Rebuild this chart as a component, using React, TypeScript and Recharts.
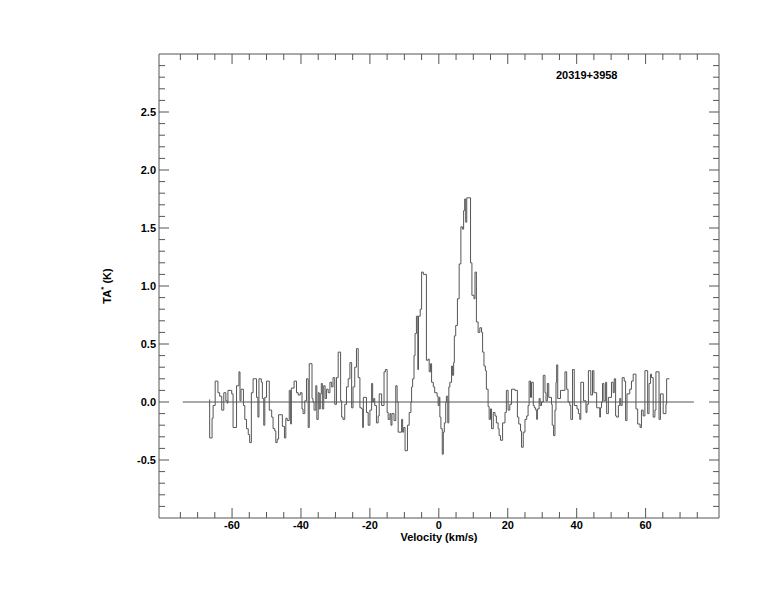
import { LineChart, Line, XAxis, YAxis } from "recharts";

// spectrum breakpoints (velocity km/s, TA* K), drawn as steps
const VEL = [
  -66.6, -66.5, -65.8, -65.5, -64.9, -64.1, -63.6, -63.0, -62.4, -61.8, -61.4, -61.2, -60.1, -59.7, -58.7, -58.0,
  -57.7, -57.4, -56.7, -56.3, -55.8, -55.3, -54.9, -54.4, -53.9, -52.9, -52.5, -52.2, -51.5, -51.2, -50.8, -50.5,
  -50.0, -49.2, -48.5, -48.1, -47.6, -47.3, -46.9, -46.5, -45.4, -44.8, -44.4, -44.0, -43.4, -43.0, -42.8, -42.0,
  -41.3, -40.8, -40.2, -39.7, -39.4, -38.9, -38.4, -37.9, -37.6, -36.8, -36.5, -36.2, -35.7, -35.4, -35.0, -34.7,
  -34.4, -34.1, -33.8, -33.4, -33.0, -32.6, -32.1, -31.6, -31.1, -30.7, -30.2, -29.7, -29.2, -28.5, -28.2, -27.8,
  -27.3, -26.8, -26.3, -25.8, -25.3, -24.9, -24.4, -23.9, -23.4, -22.9, -22.4, -22.1, -21.9, -21.0, -20.5, -20.0,
  -19.5, -19.2, -18.9, -18.6, -18.1, -17.6, -17.3, -16.6, -15.9, -15.5, -15.0, -14.7, -14.2, -13.9, -13.6, -13.0,
  -12.5, -12.1, -11.8, -10.8, -10.5, -10.2, -9.8, -9.1, -8.6, -8.1, -7.9, -7.6, -7.2, -6.9, -6.5, -6.1,
  -5.9, -5.4, -5.0, -4.5, -3.6, -3.1, -2.8, -2.4, -2.1, -1.6, -1.2, -0.5, -0.2, 0.1, 0.3, 0.6,
  1.0, 1.3, 1.6, 2.0, 2.2, 2.6, 2.9, 3.2, 3.7, 4.0, 4.3, 4.5, 4.9, 5.4, 5.9, 6.4,
  6.9, 7.2, 7.5, 7.8, 8.1, 9.2, 9.6, 10.2, 10.5, 10.9, 11.4, 11.9, 12.4, 12.7, 13.1, 13.5,
  13.8, 14.3, 14.6, 15.0, 15.3, 15.8, 16.3, 16.7, 17.2, 17.5, 17.9, 18.5, 19.2, 19.6, 20.1, 20.6,
  21.1, 22.1, 22.8, 23.2, 23.7, 24.0, 24.5, 25.0, 25.5, 25.9, 26.2, 26.6, 26.9, 27.4, 27.7, 28.1,
  28.4, 28.6, 29.1, 29.4, 29.8, 30.3, 30.8, 31.1, 31.5, 31.9, 32.7, 32.9, 33.3, 33.7, 34.0, 34.2,
  34.5, 35.3, 36.6, 37.1, 37.5, 38.0, 38.3, 38.8, 39.3, 40.1, 40.5, 40.9, 41.2, 42.0, 42.7, 43.0,
  43.4, 44.1, 44.6, 45.0, 45.8, 46.7, 46.9, 47.2, 47.5, 47.9, 48.4, 48.7, 49.2, 50.1, 50.6, 50.9,
  51.3, 51.6, 52.1, 52.5, 52.8, 53.2, 53.8, 54.2, 54.6, 55.4, 55.9, 56.4, 57.2, 57.7, 58.4, 58.8,
  59.3, 59.8, 60.6, 61.0, 61.4, 61.7, 62.2, 62.7, 63.0, 63.9, 64.3, 65.1, 65.9, 66.1, 66.9,
];

const TA = [
  0.02, -0.31, -0.14, -0.03, 0.18, 0.08, 0.05, -0.07, 0.08, 0.01, -0.01, 0.1, 0.07, -0.22, 0.14, 0.26,
  0.01, 0.11, -0.03, -0.15, -0.23, -0.28, -0.35, 0.08, 0.2, 0.04, -0.13, 0.2, 0.17, 0.03, -0.2, 0.04,
  0.18, -0.07, -0.13, -0.23, -0.25, -0.35, -0.32, -0.11, -0.21, -0.31, -0.14, -0.16, 0.1, -0.19, 0.12, 0.18,
  0.08, 0.06, 0.08, -0.06, -0.1, 0.01, 0.2, -0.22, 0.33, 0.03, 0.0, -0.07, 0.14, -0.15, 0.08, -0.06,
  0.07, 0.16, -0.06, 0.14, 0.03, 0.11, 0.08, 0.17, 0.13, 0.21, -0.02, 0.21, 0.43, 0.01, -0.13, -0.15,
  -0.02, 0.13, 0.2, 0.34, -0.05, 0.13, 0.3, 0.46, 0.21, -0.05, -0.06, -0.22, 0.04, -0.09, -0.2, -0.07,
  0.16, 0.0, 0.03, -0.03, -0.18, -0.12, 0.07, -0.03, 0.26, 0.28, -0.09, -0.15, -0.1, -0.2, -0.1, -0.16,
  0.14, 0.0, -0.26, -0.15, -0.26, -0.22, -0.42, -0.2, -0.09, 0.0, 0.13, 0.2, 0.4, 0.59, 0.74, 0.28,
  0.74, 0.8, 1.12, 1.1, 0.36, 0.37, 0.26, 0.33, 0.17, 0.13, 0.08, 0.05, -0.03, 0.04, -0.13, -0.23,
  -0.45, -0.26, -0.18, 0.0, 0.05, -0.18, 0.13, 0.17, 0.31, 0.23, 0.34, 0.57, 0.66, 0.89, 1.19, 1.51,
  1.49, 1.65, 1.75, 1.55, 1.76, 1.2, 0.92, 0.89, 1.12, 0.69, 0.6, 0.64, 0.6, 0.43, 0.31, 0.27,
  0.11, -0.04, -0.15, -0.06, -0.23, -0.09, -0.12, -0.18, -0.23, -0.29, -0.33, -0.18, -0.09, 0.1, -0.07, -0.02,
  0.11, 0.1, -0.13, -0.19, -0.25, -0.39, -0.26, -0.15, -0.12, -0.03, 0.18, 0.04, 0.17, -0.03, -0.05, -0.07,
  -0.15, -0.06, 0.03, -0.03, 0.0, 0.23, 0.08, 0.01, 0.16, 0.04, -0.02, -0.2, -0.29, -0.07, 0.17, 0.32,
  0.03, 0.1, 0.26, 0.11, 0.0, -0.03, -0.15, 0.28, -0.03, -0.06, -0.1, -0.15, 0.17, 0.01, -0.09, -0.02,
  0.27, 0.06, 0.27, 0.08, -0.05, -0.13, -0.05, 0.0, 0.16, 0.01, 0.17, -0.1, 0.04, 0.17, 0.08, 0.2,
  -0.12, -0.13, -0.03, 0.03, -0.03, 0.21, 0.18, -0.16, 0.07, 0.11, 0.18, 0.24, -0.06, -0.19, -0.22, -0.07,
  -0.12, 0.27, -0.1, 0.16, 0.24, 0.21, -0.13, -0.07, 0.26, -0.15, 0.07, -0.1, -0.02, 0.2, 0.2,
];

// horizontal zero baseline extent (km/s)
const BASE_VEL = [-74.3, 74.0];
const BASE_TA = [0, 0];

const X_TICKS = [
  -75, -70, -65, -60, -55, -50, -45, -40, -35, -30, -25, -20, -15, -10, -5, 0,
  5, 10, 15, 20, 25, 30, 35, 40, 45, 50, 55, 60, 65, 70, 75,
];
const Y_TICKS = [
  -0.9, -0.8, -0.7, -0.6, -0.5, -0.4, -0.3, -0.2, -0.1, 0, 0.1, 0.2, 0.3, 0.4, 0.5, 0.6, 0.7, 0.8, 0.9, 1,
  1.1, 1.2, 1.3, 1.4, 1.5, 1.6, 1.7, 1.8, 1.9, 2, 2.1, 2.2, 2.3, 2.4, 2.5, 2.6, 2.7, 2.8, 2.9,
];
const X_DOMAIN: [number, number] = [-81.2, 81.3];
const Y_DOMAIN: [number, number] = [-1, 3];

const TITLE = "20319+3958";

// plot box, px
const W = 774;
const H = 612;
const L = 159;
const R = 719;
const T = 54;
const B = 518;

const INK = "#555";
const FONT = "'Liberation Sans', Arial, sans-serif";

const spectrum = VEL.map((v, i) => ({ v, t: TA[i] }));
const baseline = BASE_VEL.map((v, i) => ({ v, t: BASE_TA[i] }));

function XTick({ x, payload, side }: any) {
  const v = payload.value;
  const major = v % 20 === 0;
  const len = major ? 10 : 6;
  if (side === "top") {
    return <line x1={x} x2={x} y1={T} y2={T + len} stroke={INK} />;
  }
  return (
    <g>
      <line x1={x} x2={x} y1={B} y2={B - len} stroke={INK} />
      {major && (
        <text x={x} y={B + 11} textAnchor="middle" fontSize={11} fontWeight="bold" fontFamily={FONT} fill="#000">
          {v}
        </text>
      )}
    </g>
  );
}

function YTick({ y, payload, side }: any) {
  const v = payload.value;
  const major = Math.abs(v * 2 - Math.round(v * 2)) < 1e-6;
  const len = major ? 10 : 6;
  if (side === "right") {
    return <line x1={R} x2={R - len} y1={y} y2={y} stroke={INK} />;
  }
  return (
    <g>
      <line x1={L} x2={L + len} y1={y} y2={y} stroke={INK} />
      {major && (
        <text x={L - 3} y={y + 4} textAnchor="end" fontSize={11} fontWeight="bold" fontFamily={FONT} fill="#000">
          {v.toFixed(1)}
        </text>
      )}
    </g>
  );
}

export default function App() {
  return (
    <div style={{ position: "absolute", left: 0, top: 0, width: W, height: H, background: "#fff" }}>
      <LineChart width={W} height={H} margin={{ top: 0, right: 0, bottom: 0, left: 0 }}>
        <XAxis
          xAxisId="bottom"
          type="number"
          dataKey="v"
          domain={X_DOMAIN}
          ticks={X_TICKS}
          interval={0}
          allowDataOverflow
          height={H - B}
          axisLine={{ stroke: INK }}
          tickLine={false}
          tick={(p: any) => <XTick {...p} side="bottom" />}
        />
        <XAxis
          xAxisId="top"
          orientation="top"
          type="number"
          dataKey="v"
          domain={X_DOMAIN}
          ticks={X_TICKS}
          interval={0}
          allowDataOverflow
          height={T}
          axisLine={{ stroke: INK }}
          tickLine={false}
          tick={(p: any) => <XTick {...p} side="top" />}
        />
        <YAxis
          yAxisId="left"
          type="number"
          domain={Y_DOMAIN}
          ticks={Y_TICKS}
          interval={0}
          allowDataOverflow
          width={L}
          axisLine={{ stroke: INK }}
          tickLine={false}
          tick={(p: any) => <YTick {...p} side="left" />}
        />
        <YAxis
          yAxisId="right"
          orientation="right"
          type="number"
          domain={Y_DOMAIN}
          ticks={Y_TICKS}
          interval={0}
          allowDataOverflow
          width={W - R}
          axisLine={{ stroke: INK }}
          tickLine={false}
          tick={(p: any) => <YTick {...p} side="right" />}
        />
        <Line
          xAxisId="bottom"
          yAxisId="left"
          data={baseline}
          dataKey="t"
          type="linear"
          stroke={INK}
          strokeWidth={1}
          dot={false}
          isAnimationActive={false}
        />
        <Line
          xAxisId="bottom"
          yAxisId="left"
          data={spectrum}
          dataKey="t"
          type="stepAfter"
          stroke={INK}
          strokeWidth={1}
          dot={false}
          isAnimationActive={false}
        />
      </LineChart>
      <div
        style={{
          position: "absolute",
          left: 556,
          top: 69,
          fontFamily: FONT,
          fontWeight: "bold",
          fontSize: 11,
          color: "#000",
          whiteSpace: "nowrap",
        }}
      >
        {TITLE}
      </div>
      <div
        style={{
          position: "absolute",
          left: 0,
          width: 2 * 439,
          top: 532,
          lineHeight: "10px",
          textAlign: "center",
          fontFamily: FONT,
          fontWeight: "bold",
          fontSize: 11,
          color: "#000",
        }}
      >
        Velocity (km/s)
      </div>
      <div
        style={{
          position: "absolute",
          left: 106,
          top: 286,
          transform: "translate(-50%, -50%) rotate(-90deg)",
          fontFamily: FONT,
          fontWeight: "bold",
          fontSize: 11,
          color: "#000",
          whiteSpace: "nowrap",
        }}
      >
        TA<sup style={{ fontSize: 8 }}>*</sup> (K)
      </div>
    </div>
  );
}
